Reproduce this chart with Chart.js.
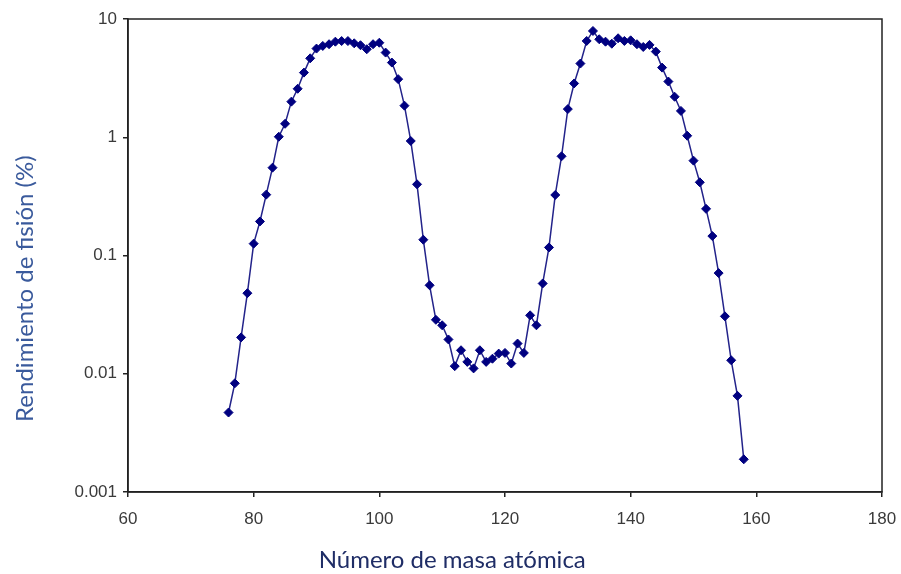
<!DOCTYPE html>
<html>
<head>
<meta charset="utf-8">
<script src="https://cdn.jsdelivr.net/npm/chart.js@4.4.1/dist/chart.umd.min.js"></script>
<style>
  html, body { margin: 0; padding: 0; background: #ffffff; }
  #wrap { width: 901px; height: 574px; position: relative; }
</style>
</head>
<body>
<div id="wrap"><canvas id="c" width="901" height="574"></canvas></div>
<script>
// Mass numbers (x) and fission yields in % (y)
const massNumbers = [76,77,78,79,80,81,82,83,84,85,86,87,88,89,90,91,92,93,94,95,96,97,98,99,100,
  101,102,103,104,105,106,107,108,109,110,111,112,113,114,115,116,117,118,119,120,
  121,122,123,124,125,126,127,128,129,130,131,132,133,134,135,136,137,138,139,140,
  141,142,143,144,145,146,147,148,149,150,151,152,153,154,155,156,157,158];
const fissionYield = [0.0047,0.0083,0.0203,0.048,0.126,0.194,0.327,0.553,1.01,1.30,2.0,2.57,3.52,4.65,5.62,5.92,6.12,6.43,6.51,6.51,6.23,6.0,5.55,6.12,6.3,
  5.2,4.28,3.1,1.85,0.93,0.40,0.136,0.056,0.0286,0.0257,0.0195,0.0116,0.0158,0.0126,0.0111,0.0158,0.0126,0.0134,0.0148,0.015,
  0.0122,0.018,0.015,0.0312,0.0257,0.058,0.117,0.325,0.69,1.73,2.85,4.2,6.52,7.92,6.74,6.43,6.18,6.87,6.52,6.6,
  6.12,5.8,6.04,5.3,3.88,2.96,2.2,1.67,1.03,0.634,0.416,0.248,0.146,0.071,0.0306,0.013,0.0065,0.00189];
const xTicks = [60, 80, 100, 120, 140, 160, 180];
const yTicks = [0.001, 0.01, 0.1, 1, 10];
const yTickLabels = ['0.001', '0.01', '0.1', '1', '10'];
const xTitle = 'Número de masa atómica';
const yTitle = 'Rendimiento de fisión (%)';

const points = massNumbers.map((m, i) => ({ x: m, y: fissionYield[i] }));

const frameAndTitles = {
  id: 'frameAndTitles',
  afterDraw(chart) {
    const a = chart.chartArea, ctx = chart.ctx;
    ctx.save();
    ctx.strokeStyle = '#222';
    ctx.lineWidth = 1.5;
    ctx.strokeRect(a.left, a.top, a.right - a.left, a.bottom - a.top);
    // axis titles (offset from centre as in the original figure)
    ctx.font = '24px Lato';
    ctx.textAlign = 'center';
    ctx.textBaseline = 'middle';
    ctx.fillStyle = '#1f2d66';
    ctx.fillText(xTitle, a.left + (a.right - a.left) * 0.43, chart.height - 14);
    ctx.translate(25, a.top + (a.bottom - a.top) * 0.57);
    ctx.rotate(-Math.PI / 2);
    ctx.fillStyle = '#3a5a9c';
    ctx.fillText(yTitle, 0, 0);
    ctx.restore();
  }
};

new Chart(document.getElementById('c'), {
  type: 'scatter',
  data: {
    datasets: [{
      data: points,
      showLine: true,
      borderColor: '#23238a',
      borderWidth: 1.5,
      backgroundColor: '#000080',
      pointBackgroundColor: '#000080',
      pointBorderColor: '#000080',
      pointBorderWidth: 1,
      pointStyle: 'rectRot',
      pointRadius: 4.5,
      tension: 0
    }]
  },
  options: {
    responsive: false,
    animation: false,
    devicePixelRatio: 1,
    layout: { padding: { left: 0, right: 19, top: 19, bottom: 0 } },
    plugins: { legend: { display: false }, tooltip: { enabled: false } },
    scales: {
      x: {
        type: 'linear',
        min: 60, max: 180,
        afterBuildTicks(scale) { scale.ticks = xTicks.map(v => ({ value: v })); },
        afterFit(scale) { scale.height = 82; scale.paddingLeft = 0; scale.paddingRight = 0; },
        grid: { display: true, drawOnChartArea: false, drawTicks: true, tickLength: 5, color: '#222', lineWidth: 1.5 },
        border: { display: true, color: '#222', width: 1.5 },
        ticks: { color: '#3a3a3a', font: { family: "'Liberation Sans', Arial, sans-serif", size: 17 }, padding: 12, maxRotation: 0 },
        title: { display: false }
      },
      y: {
        type: 'logarithmic',
        min: 0.001, max: 10,
        afterBuildTicks(scale) { scale.ticks = yTicks.map(v => ({ value: v })); },
        afterFit(scale) { scale.width = 128; scale.paddingTop = 0; scale.paddingBottom = 0; },
        grid: { display: true, drawOnChartArea: false, drawTicks: true, tickLength: 5, color: '#222', lineWidth: 1.5 },
        border: { display: true, color: '#222', width: 1.5 },
        ticks: {
          color: '#3a3a3a', font: { family: "'Liberation Sans', Arial, sans-serif", size: 17 }, padding: 6,
          callback: (v) => { const i = yTicks.findIndex(t => Math.abs(t - v) / t < 1e-6); return i >= 0 ? yTickLabels[i] : ''; }
        },
        title: { display: false }
      }
    }
  },
  plugins: [frameAndTitles]
});
</script>
</body>
</html>
